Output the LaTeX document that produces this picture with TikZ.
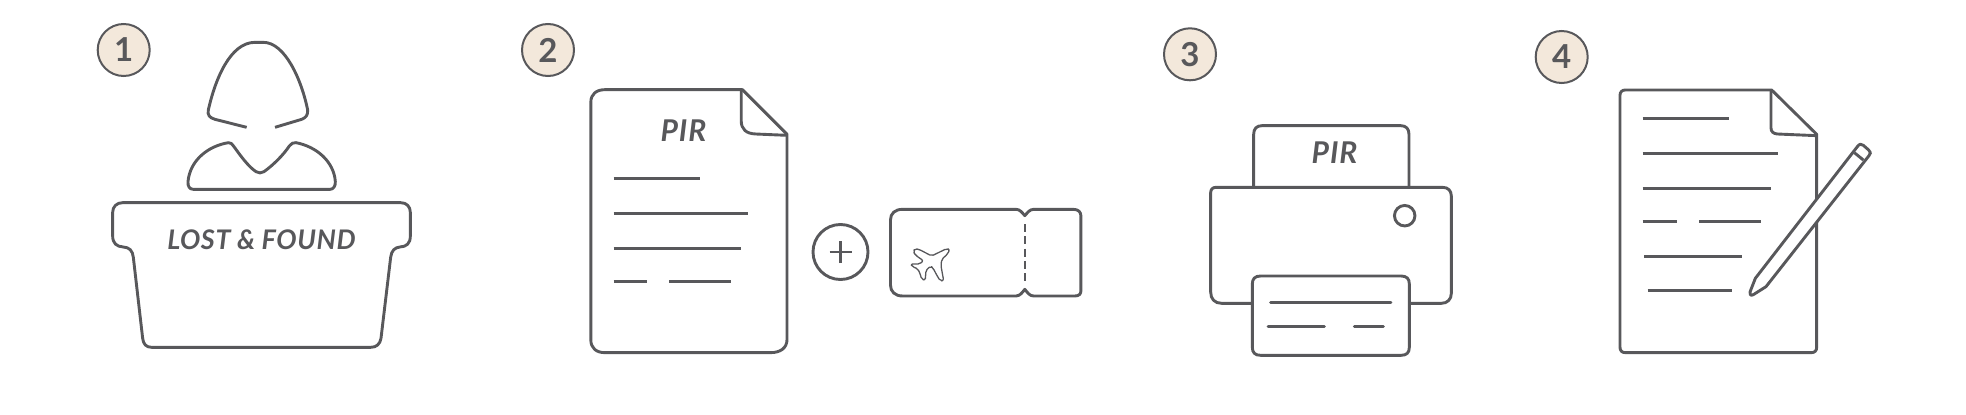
\documentclass[tikz,border=0pt]{standalone}
\usepackage{fontspec}
\setmainfont{Lato}
\definecolor{ink}{HTML}{58585B}
\definecolor{badge}{HTML}{F3E8DB}
\tikzset{
  x=1pt,y=-1pt,
  line/.style={draw=ink,line width=2.9pt,line join=round},
  thin line/.style={draw=ink,line width=1.3pt,line join=round},
  badgecircle/.style={circle,draw=ink,fill=badge,line width=2pt,minimum size=52pt,inner sep=0pt,text=ink,font=\fontsize{33}{33}\selectfont\bfseries},
  label/.style={text=ink,inner sep=0pt,font=\fontsize{27}{27}\selectfont\bfseries\itshape\addfontfeature{LetterSpace=2.2}},
  labelb/.style={text=ink,inner sep=0pt,font=\fontsize{30}{30}\selectfont\bfseries\itshape\addfontfeature{LetterSpace=3}},
}
\begin{document}
\begin{tikzpicture}
\useasboundingbox (0,0) rectangle (1966,415);

% ---- badges
\node[badgecircle] (b1) at (123.7,50) {1};
\node[badgecircle] (b2) at (548,50) {2};
\node[badgecircle] (b3) at (1190,54.3) {3};
\node[badgecircle] (b4) at (1561.7,57) {4};

% ---- step 1: person at the desk
\begin{scope}[xshift=80pt,xscale=1/3,yscale=1/3]
  \draw[line] (500,382) -- (405,358) .. controls (388,353) and (382,345) .. (385,330)
    .. controls (405,240) and (450,127) .. (525,127) -- (550,127)
    .. controls (615,127) and (665,240) .. (683,330)
    .. controls (684,345) and (678,353) .. (665,358) -- (585,382);
  \draw[line] (340,568) .. controls (328,568) and (323,558) .. (324,545)
    .. controls (330,480) and (385,438) .. (445,428)
    .. controls (453,427) and (456,432) .. (462,440)
    .. controls (480,465) and (505,500) .. (528,515)
    .. controls (536,520) and (544,520) .. (552,515)
    .. controls (580,495) and (610,465) .. (628,438)
    .. controls (634,430) and (640,427) .. (648,428)
    .. controls (710,440) and (762,485) .. (766,545)
    .. controls (767,558) and (760,568) .. (750,568) -- cycle;
  \draw[line] (128,608) -- (962,608) .. controls (980,608) and (991,620) .. (991,637)
    -- (991,708) .. controls (991,730) and (980,740) .. (960,741)
    .. controls (945,742) and (934,752) .. (932,772)
    -- (903,1015) .. controls (900,1032) and (890,1042) .. (872,1042)
    -- (215,1042) .. controls (198,1042) and (190,1032) .. (188,1015)
    -- (160,772) .. controls (158,752) and (148,742) .. (130,741)
    .. controls (110,740) and (98,730) .. (98,708)
    -- (98,637) .. controls (98,620) and (110,608) .. (128,608) -- cycle;
\end{scope}
\node[label] (lost) at (261.5,240) {LOST \& FOUND};

% ---- step 2: report and ticket
\begin{scope}[xshift=500pt,xscale=1/2.62,yscale=1/3]
  \draw[line] (752,403) -- (752,1018) .. controls (752,1044) and (735,1058) .. (708,1058)
    -- (275,1058) .. controls (252,1058) and (238,1044) .. (238,1020)
    -- (238,306) .. controls (238,283) and (252,269) .. (275,269)
    -- (635,269) -- cycle;
  \draw[line] (632,269) -- (632,362) .. controls (632,388) and (645,401) .. (670,402) -- (752,406);
  \draw[line] (298,535.5) -- (523,535.5);
  \draw[line] (298,640.5) -- (650,640.5);
  \draw[line] (298,745.5) -- (632,745.5);
  \draw[line] (298,844.5) -- (386,844.5);
  \draw[line] (444,844.5) -- (606,844.5);
  % ticket
  \draw[line] (1055,628) -- (1352,628) .. controls (1362,628) and (1368,638) .. (1375,647)
    .. controls (1382,638) and (1388,628) .. (1398,628) -- (1502,628)
    .. controls (1515,628) and (1522,636) .. (1522,648) -- (1522,872)
    .. controls (1522,882) and (1517,888) .. (1506,888) -- (1398,888)
    .. controls (1388,888) and (1382,878) .. (1375,868)
    .. controls (1368,878) and (1362,888) .. (1352,888) -- (1055,888)
    .. controls (1035,888) and (1023,875) .. (1023,855) -- (1023,660)
    .. controls (1023,640) and (1035,628) .. (1055,628) -- cycle;
\end{scope}
\node[labelb] (pir2) at (683.5,130.5) {PIR};
\node[circle,draw=ink,line width=2.9pt,minimum size=55pt,inner sep=0pt] (plus) at (840.5,252) {};
\draw[line,line width=2.2pt] ([xshift=-11pt]plus.center) -- ([xshift=11pt]plus.center);
\draw[line,line width=2.2pt] ([yshift=-11pt]plus.center) -- ([yshift=11pt]plus.center);
\draw[line,dash pattern=on 8pt off 4.3pt] (1025,224) -- (1025,281);
\begin{scope}[xshift=905pt,yshift=-240pt,xscale=1/3,yscale=1/3]
  \draw[thin line,rounded corners=2pt] (134,28) -- (128,42) -- (110,58) -- (108,78) -- (116,122)
    -- (106,123) -- (95,105) -- (84,84) -- (77,78) -- (62,92) -- (62,110) -- (60,121)
    -- (50,118) -- (45,100) -- (38,86) -- (22,80) -- (17,72) -- (32,72) -- (45,72)
    -- (55,62) -- (32,46) -- (24,34) -- (30,26) -- (42,28) -- (80,48) -- (100,38) -- (125,26) -- cycle;
\end{scope}

% ---- step 3: printer
\begin{scope}[xshift=1140pt,xscale=1/3,yscale=1/3]
  \draw[line] (341,562) -- (341,403) .. controls (341,386) and (350,377) .. (366,377)
    -- (782,377) .. controls (798,377) and (807,386) .. (807,403) -- (807,562);
  \draw[line] (337,910) -- (245,910) .. controls (224,910) and (212,897) .. (212,876)
    -- (212,578) .. controls (212,568) and (218,562) .. (228,562)
    -- (908,562) .. controls (924,562) and (934,572) .. (934,588)
    -- (934,880) .. controls (934,898) and (922,910) .. (904,910) -- (808,910);
  \draw[line] (362,828) -- (783,828) .. controls (800,828) and (808,836) .. (808,852)
    -- (808,1042) .. controls (808,1058) and (800,1066) .. (783,1066)
    -- (362,1066) .. controls (345,1066) and (337,1058) .. (337,1042)
    -- (337,852) .. controls (337,836) and (345,828) .. (362,828) -- cycle;
  \draw[line,line cap=round] (392,908) -- (753,908);
  \draw[line,line cap=round] (384,979) -- (553,979);
  \draw[line,line cap=round] (643,979) -- (730,979);
\end{scope}
\node[labelb] (pir3) at (1334.5,153) {PIR};
\node[circle,draw=ink,line width=2.9pt,minimum size=20.5pt,inner sep=0pt] (button) at (1404.7,215.7) {};

% ---- step 4: form and pencil
\begin{scope}[xshift=1520pt,xscale=1/3,yscale=1/3]
  \draw[line] (890,403) -- (890,1042) .. controls (890,1052) and (884,1058) .. (874,1058)
    -- (316,1058) .. controls (306,1058) and (300,1052) .. (300,1042)
    -- (300,286) .. controls (300,276) and (306,270) .. (316,270)
    -- (755,270) -- cycle;
  \draw[line] (753,270) -- (753,384) .. controls (753,395) and (760,401) .. (772,402) -- (890,407);
  \draw[line] (368,355.5) -- (628,355.5);
  \draw[line] (368,460.5) -- (773,460.5);
  \draw[line] (368,565.5) -- (753,565.5);
  \draw[line] (368,664.5) -- (470,664.5);
  \draw[line] (537,664.5) -- (722,664.5);
  \draw[line] (372,769.5) -- (667,769.5);
  \draw[line] (383,871.5) -- (636,871.5);
  % pencil
  \draw[line,fill=white] (706,835) -- (1012,440) .. controls (1018,432) and (1024,430) .. (1030,436)
    -- (1046,450) .. controls (1053,456) and (1053,461) .. (1047,467)
    -- (738,860) -- (700,884) .. controls (692,888) and (688,884) .. (690,876) -- cycle;
  \draw[line] (1003,458) -- (1030,480);
\end{scope}
\end{tikzpicture}
\end{document}
